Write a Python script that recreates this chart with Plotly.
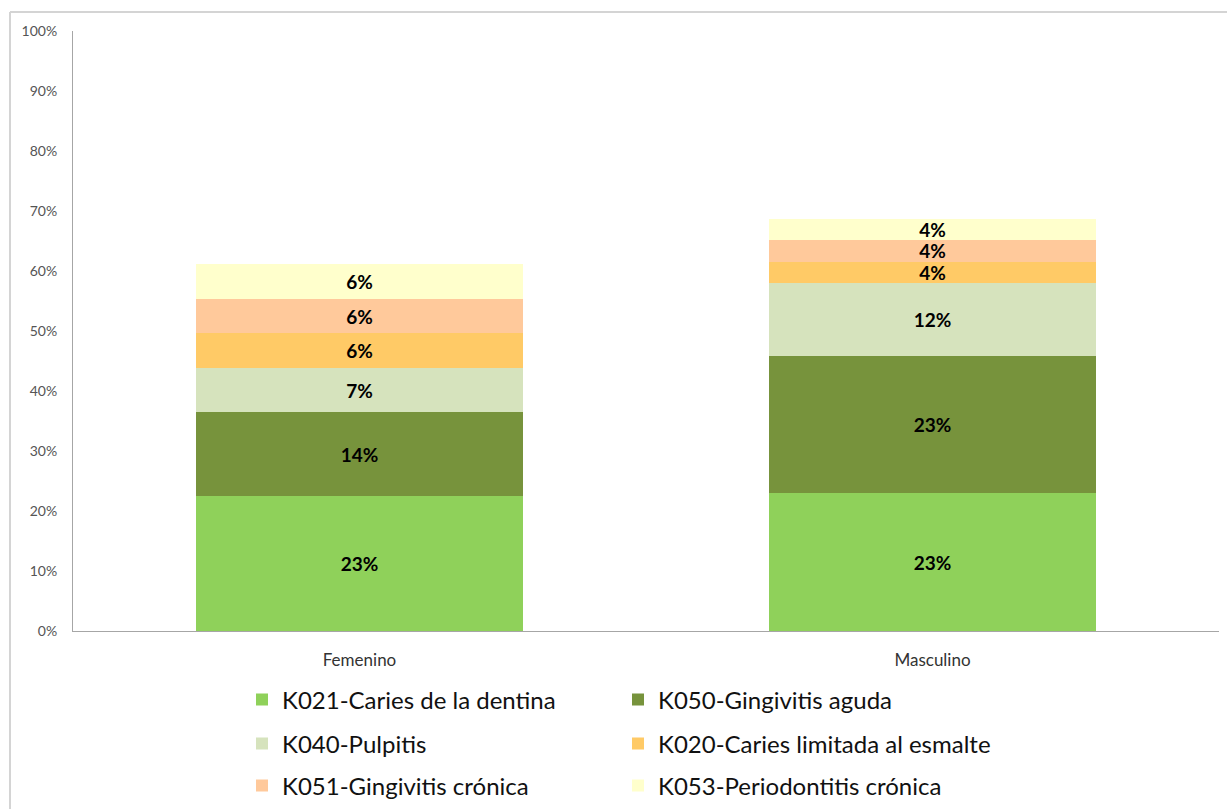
import plotly.graph_objects as go

categories = ["Femenino", "Masculino"]

series_names = [
    "K021-Caries de la dentina",
    "K050-Gingivitis aguda",
    "K040-Pulpitis",
    "K020-Caries limitada al esmalte",
    "K051-Gingivitis crónica",
    "K053-Periodontitis crónica",
]

k021 = [22.5, 23.0]
k050 = [14.0, 22.8]
k040 = [7.3, 12.2]
k020 = [5.8, 3.5]
k051 = [5.8, 3.7]
k053 = [5.7, 3.5]
series_values = [k021, k050, k040, k020, k051, k053]

y_tick_values = [0, 10, 20, 30, 40, 50, 60, 70, 80, 90, 100]
y_tick_labels = ["0%", "10%", "20%", "30%", "40%", "50%", "60%", "70%", "80%", "90%", "100%"]

colors = ["#8fd15a", "#77933c", "#d6e3bd", "#ffca66", "#ffc99b", "#ffffcc"]

# two legend entries per row, each row is its own legend box
legend_rows = ["legend", "legend", "legend2", "legend2", "legend3", "legend3"]

FONT = "Lato, Open Sans, sans-serif"
W, H = 1227, 809

fig = go.Figure()
for name, vals, col, lg in zip(series_names, series_values, colors, legend_rows):
    fig.add_trace(go.Bar(
        x=categories, y=vals, name=name, legend=lg,
        marker=dict(color=col, line=dict(width=0)),
        texttemplate="%{y:.0f}%", textposition="inside",
        insidetextanchor="middle", textangle=0,
        constraintext="none",
        textfont=dict(family=FONT, size=19, color="#000000", weight="bold"),
        hoverinfo="skip",
    ))

plot_h = 600.0


def row_legend(py):
    return dict(
        orientation="h", xref="container", yref="container",
        x=242 / W, xanchor="left",
        y=1 - py / H, yanchor="middle",
        entrywidth=331, entrywidthmode="pixels", traceorder="normal",
        font=dict(family=FONT, size=24, color="#111111"), itemwidth=30,
        bgcolor="rgba(0,0,0,0)",
    )


fig.update_layout(
    barmode="stack",
    bargap=0.43,
    width=W, height=H,
    margin=dict(l=73, r=8, t=31, b=178, autoexpand=False),
    plot_bgcolor="white", paper_bgcolor="white",
    font=dict(family=FONT, color="#222222"),
    showlegend=True,
    legend=row_legend(700),
    legend2=row_legend(744),
    legend3=row_legend(786),
    xaxis=dict(
        showline=True, linecolor="#a6a6a6", linewidth=1,
        ticks="", tickfont=dict(size=17, color="#333333"),
        showgrid=False, ticklabelstandoff=14, automargin=False,
    ),
    yaxis=dict(
        range=[0, 100], tickmode="array",
        tickvals=y_tick_values, ticktext=y_tick_labels,
        showline=True, linecolor="#a6a6a6", linewidth=1,
        ticks="", tickfont=dict(size=14, color="#555555"),
        showgrid=False, zeroline=False, ticklabelstandoff=12,
        automargin=False,
    ),
    shapes=[
        dict(type="line", xref="paper", yref="paper",
             x0=(10 - 73) / 1146, x1=1.01, y0=(631 - 12) / plot_h, y1=(631 - 12) / plot_h,
             line=dict(color="#d4d4d4", width=2)),
        dict(type="line", xref="paper", yref="paper",
             x0=(10 - 73) / 1146, x1=(10 - 73) / 1146, y0=(631 - 12) / plot_h, y1=-0.32,
             line=dict(color="#d4d4d4", width=2)),
    ],
)

fig.write_html("out.html")
